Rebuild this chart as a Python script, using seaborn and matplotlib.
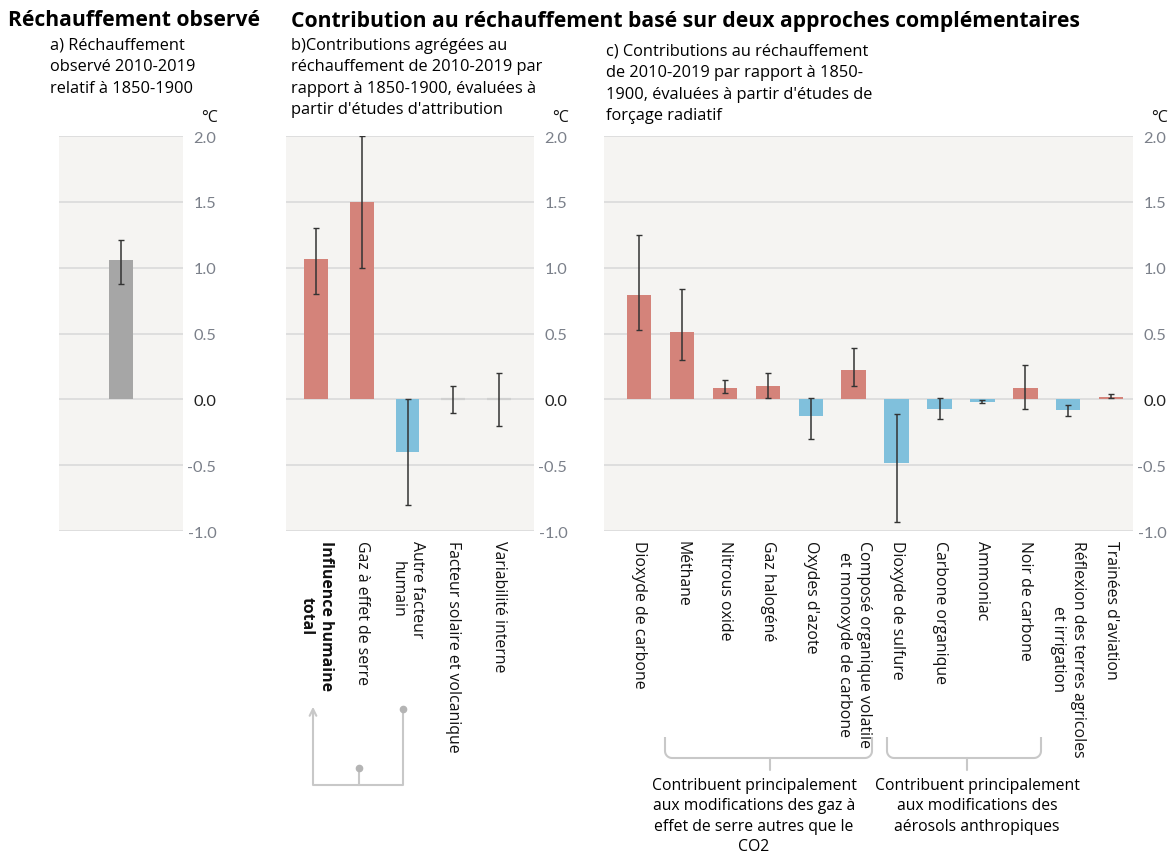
import numpy as np
import pandas as pd
import matplotlib.pyplot as plt
import seaborn as sns

sns.set_theme(style='white')
plt.rcParams['font.family'] = ['Open Sans', 'DejaVu Sans']
plt.rcParams['axes.unicode_minus'] = False
plt.rcParams['text.color'] = '#000000'

W, H = 1169, 854
RED = '#d4837a'
BLUE = '#80c0dc'
GREY = '#a6a6a6'
ZERO = '#d0d0d0'
BG = '#f5f4f2'
GRID = '#dcdcdc'
TICKC = '#7b808a'
LINEC = '#c8c8c8'

# a) réchauffement observé
obs_labels = ['']
obs_values = [1.06]
obs_low = [0.88]
obs_high = [1.21]

# b) études d'attribution
attr_labels = ['Influence humaine\ntotal', 'Gaz à effet de serre', 'Autre facteur\nhumain',
               'Facteur solaire et volcanique', 'Variabilité interne']
attr_values = [1.07, 1.50, -0.40, 0.0, 0.0]
attr_low = [0.80, 1.00, -0.80, -0.10, -0.20]
attr_high = [1.30, 2.00, 0.00, 0.10, 0.20]

# c) études de forçage radiatif
forc_labels = ['Dioxyde de carbone', 'Méthane', 'Nitrous oxide', 'Gaz halogéné', "Oxydes d'azote",
               'Composé organique volatile\net monoxyde de carbone', 'Dioxyde de sulfure',
               'Carbone organique', 'Ammoniac', 'Noir de carbone',
               'Réflexion des terres agricoles\net irrigation', "Trainées d'aviation"]
forc_values = [0.79, 0.51, 0.09, 0.10, -0.13, 0.22, -0.48, -0.07, -0.02, 0.09, -0.08, 0.02]
forc_low = [0.53, 0.30, 0.05, 0.01, -0.30, 0.10, -0.93, -0.15, -0.025, -0.07, -0.13, 0.01]
forc_high = [1.25, 0.84, 0.15, 0.20, 0.01, 0.39, -0.11, 0.01, -0.005, 0.26, -0.04, 0.04]

yticks = [-1.0, -0.5, 0.0, 0.5, 1.0, 1.5, 2.0]


def sign_colors(values):
    return [RED if v > 0 else BLUE if v < 0 else ZERO for v in values]


def px(x, y):
    return x / W, 1 - y / H


def draw_panel(ax, labels, values, low, high, colors, width, xlim):
    ax.set_facecolor(BG)
    ax.set_axisbelow(True)
    for y in yticks:
        ax.axhline(y, color=GRID, lw=1.3, zorder=0)
    df = pd.DataFrame({'cat': labels, 'val': values})
    sns.barplot(data=df, x='cat', y='val', hue='cat', palette=colors, width=width,
                saturation=1, legend=False, ax=ax, zorder=2, linewidth=0)
    for p in ax.patches:
        if abs(p.get_height()) < 1e-9:
            p.set_edgecolor(ZERO)
            p.set_linewidth(1.6)
    pos = np.arange(len(labels))
    vals = np.array(values)
    lo = np.array(low)
    hi = np.array(high)
    ax.errorbar(pos, vals, yerr=[vals - lo, hi - vals], fmt='none', ecolor='#333333',
                elinewidth=1.1, capsize=2, capthick=1, zorder=3)
    ax.set_xlim(*xlim)
    ax.set_ylim(-1, 2)
    ax.set_xlabel('')
    ax.set_ylabel('')
    for s in ax.spines.values():
        s.set_visible(False)
    ax.yaxis.tick_right()
    ax.set_yticks(yticks)
    ax.set_yticklabels([f'{v:.1f}' for v in yticks])
    ax.tick_params(axis='y', length=0, pad=24)
    for t, v in zip(ax.yaxis.get_major_ticks(), yticks):
        t.label2.set_ha('right')
        t.label2.set_fontfamily('Lato')
        t.label2.set_fontsize(11.8)
        t.label2.set_color('#222222' if v == 0 else TICKC)
    ax.set_xticks(pos)
    ax.set_xticklabels(labels, rotation=270, ha='center', va='top', fontsize=11.4,
                       color='#111111', linespacing=1.3)
    ax.tick_params(axis='x', direction='inout', length=9, width=1, color='#d2d2d2', pad=2)
    ax.annotate('°C', xy=(1, 1), xycoords='axes fraction', xytext=(25, 14),
                textcoords='offset points', ha='right', va='center', fontsize=11.5, color='#111111')


fig = plt.figure(figsize=(11.69, 8.54), dpi=100)
ax_a = fig.add_axes([0.0505, 0.377, 0.106, 0.4625])
ax_b = fig.add_axes([0.2447, 0.377, 0.2121, 0.4625])
ax_c = fig.add_axes([0.5167, 0.377, 0.4525, 0.4625])

draw_panel(ax_a, obs_labels, obs_values, obs_low, obs_high, [GREY], 0.19, (-0.5, 0.5))
draw_panel(ax_b, attr_labels, attr_values, attr_low, attr_high, sign_colors(attr_values), 0.52, (-0.66, 4.77))
draw_panel(ax_c, forc_labels, forc_values, forc_low, forc_high, sign_colors(forc_values), 0.57, (-0.82, 11.51))
ax_b.get_xticklabels()[0].set_fontweight('bold')

# titres
fig.text(*px(8, 21), 'Réchauffement observé', fontsize=15.2, fontweight='bold', va='center', ha='left')
fig.text(*px(291, 21), 'Contribution au réchauffement basé sur deux approches complémentaires',
         fontsize=15.2, fontweight='bold', va='center', ha='left')
fig.text(*px(50, 38), 'a) Réchauffement\nobservé 2010-2019\nrelatif à 1850-1900',
         fontsize=11.8, va='top', ha='left', linespacing=1.45)
fig.text(*px(291, 38), "b)Contributions agrégées au\nréchauffement de 2010-2019 par\n"
         "rapport à 1850-1900, évaluées à\npartir d'études d'attribution",
         fontsize=11.8, va='top', ha='left', linespacing=1.45)
fig.text(*px(606, 44), "c) Contributions au réchauffement\nde 2010-2019 par rapport à 1850-\n"
         "1900, évaluées à partir d'études de\nforçage radiatif",
         fontsize=11.8, va='top', ha='left', linespacing=1.45)

# accolades et liaisons
ov = fig.add_axes([0, 0, 1, 1], zorder=10)
ov.set_xlim(0, W)
ov.set_ylim(H, 0)
ov.axis('off')


def bracket(x0, x1, ytop, ybot, xm, ystem, r=7):
    th = np.linspace(0, np.pi / 2, 10)
    xs = [x0, x0]
    ys = [ytop, ybot - r]
    xs += list(x0 + r - r * np.cos(th))
    ys += list(ybot - r + r * np.sin(th))
    xs += [x1 - r]
    ys += [ybot]
    xs += list(x1 - r + r * np.sin(th))
    ys += list(ybot - r * (1 - np.cos(th)))
    xs += [x1, x1]
    ys += [ybot - r, ytop]
    ov.plot(xs, ys, color=LINEC, lw=1.5, solid_capstyle='butt')
    ov.plot([xm, xm], [ybot, ystem], color=LINEC, lw=1.5)


bracket(665, 872, 738, 759, 770, 771)
bracket(887, 1041, 738, 759, 967, 771)

ov.plot([313, 313, 403, 403], [712, 786, 786, 710], color=LINEC, lw=1.5)
ov.plot([359, 359], [786, 769], color=LINEC, lw=1.5)
ov.plot([403, 359], [710, 769], 'o', color='#b4b4b4', markersize=4.5, linestyle='none')
ov.annotate('', xy=(313, 705), xytext=(313, 720),
            arrowprops=dict(arrowstyle='->', color=LINEC, lw=1.5))

fig.text(*px(754, 778), 'Contribuent principalement\naux modifications des gaz à\n'
         'effet de serre autres que le\nCO2', fontsize=11.3, ha='center', va='top', linespacing=1.36)
fig.text(*px(977, 778), 'Contribuent principalement\naux modifications des\naérosols anthropiques',
         fontsize=11.3, ha='center', va='top', linespacing=1.36)

fig.savefig('out.png', dpi=100)
